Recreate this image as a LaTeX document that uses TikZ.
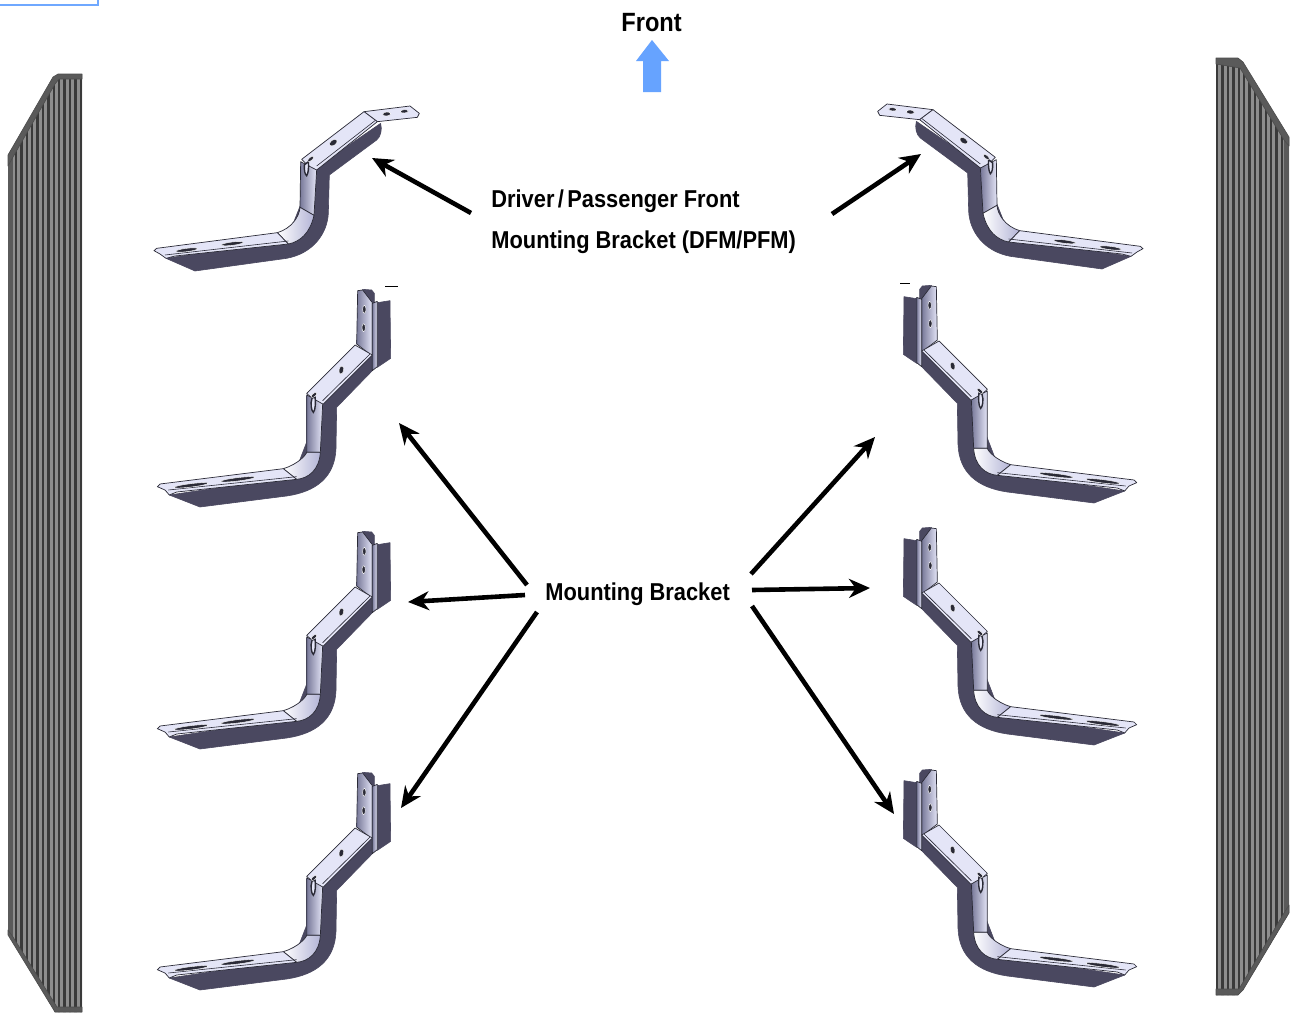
\documentclass[tikz,border=0pt]{standalone}
\usepackage{fontspec}
\newfontfamily\lblfont[FakeStretch=0.895]{Liberation Sans}
\usetikzlibrary{arrows.meta}
\definecolor{bodydark}{HTML}{4A4860}
\definecolor{facelight}{HTML}{E4E5F7}
\definecolor{facemid}{HTML}{A0A1CC}
\definecolor{edgeline}{HTML}{2A2A36}
\definecolor{stripebase}{HTML}{8E8E8E}
\definecolor{stripeline}{HTML}{3A3A3A}
\definecolor{railgrey}{HTML}{5A5A5A}
\definecolor{frontblue}{HTML}{66A3FF}
\definecolor{boxblue}{HTML}{6FA8FF}
\tikzset{
  body/.style={fill=bodydark,draw=bodydark,line width=.3pt,line join=round},
  face/.style={fill=facelight,draw=edgeline,line width=.35pt,line join=round},
  vface/.style={left color=facemid!75!black,right color=facelight,draw=edgeline,line width=.35pt,line join=round},
  bendface/.style={left color=white,right color=facemid!80,draw=edgeline,line width=.35pt,line join=round},
  hole/.style={fill=edgeline,draw=white,line width=.2pt},
  callout/.style={-{Stealth[length=10.5pt,width=9.5pt]},line width=2.3pt,black},
  lbl/.style={font=\lblfont\bfseries\fontsize{12.2}{14}\selectfont,anchor=base west,inner sep=0pt,text=black},
  rail/.style={fill=railgrey,draw=black!70,line width=.3pt,line join=round},
}
\newcommand{\tallbracket}[3]{%
\begin{scope}[shift={(#1,#2)},xscale=#3,yscale=1/3]
  \path[body] (750,62) -- (712,68) -- (712,262) -- (752,235) -- cycle;
  \path[body] (668,28) -- (695,30) -- (703,40) -- (703,70) -- (668,70) -- cycle;
  \path[body] (88,645) -- (180,681) -- (440,648) .. controls (530,635) and (585,590) .. (588,505) -- (590,382) -- (697,272) -- (697,225) -- (545,370) -- (460,590) -- cycle;
  \path[vface] (653,32) -- (668,30) -- (697,68) -- (697,228) -- (650,192) -- cycle;
  \path[vface] (697,70) -- (712,64) -- (712,260) -- (697,272) -- cycle;
  \path[face] (645,195) -- (697,225) -- (550,372) -- (535,372) -- (500,340) -- cycle;
  \path[vface] (500,345) -- (510,350) -- (548,372) -- (541,517) -- (500,517) -- cycle;
  \path[bendface] (430,566) .. controls (475,552) and (498,525) .. (500,517) -- (541,517) .. controls (538,570) and (505,595) .. (470,598) -- cycle;
  \path[face] (52,620) -- (60,612) -- (430,566) -- (470,598) -- (110,636) -- (88,645) -- (75,630) -- cycle;
  \draw[edgeline,line width=.3pt] (85,630) -- (470,590);
  \draw[edgeline,line width=.3pt] (690,222) -- (548,362);
  \fill[hole] (673,88) ellipse [x radius=5,y radius=12];
  \fill[hole] (671,143) ellipse [x radius=5,y radius=12];
  \fill[hole] (604,270) ellipse [x radius=7,y radius=12,rotate=-10];
  \path[hole] (153,616) ellipse [x radius=52,y radius=5,rotate=7];
  \path[hole] (293,598) ellipse [x radius=52,y radius=5,rotate=7];
  \draw[edgeline,line width=.7pt,fill=facelight] (516,355) .. controls (510,370) and (515,395) .. (520,397) .. controls (527,390) and (527,365) .. (525,350) -- cycle;
  \fill[hole] (522,345) ellipse [x radius=10,y radius=5,rotate=40];
\end{scope}}
\newcommand{\frontbracket}[3]{%
\begin{scope}[shift={(#1,#2)},xscale=#3,yscale=1/3]
  \path[body] (78,505) -- (165,543) -- (440,505) .. controls (520,490) and (562,430) .. (565,370) -- (568,255) -- (710,150) .. controls (722,140) and (727,120) .. (722,100) -- (525,235) -- (440,450) -- cycle;
  \path[face] (672,65) -- (810,48) -- (838,70) -- (832,82) -- (712,95) -- cycle;
  \path[face] (485,208) -- (672,65) -- (712,95) -- (530,240) -- (518,240) -- cycle;
  \path[vface] (482,215) -- (495,222) -- (530,240) -- (522,376) -- (480,352) -- cycle;
  \path[bendface] (412,428) .. controls (455,415) and (478,380) .. (480,352) -- (522,376) .. controls (510,430) and (480,455) .. (445,462) -- cycle;
  \path[face] (42,482) -- (50,475) -- (412,428) -- (445,462) -- (105,498) -- (78,505) -- (60,492) -- cycle;
  \draw[edgeline,line width=.3pt] (75,495) -- (445,453);
  \draw[edgeline,line width=.3pt] (705,92) -- (530,228);
  \path[hole] (740,72) ellipse [x radius=12,y radius=6,rotate=5];
  \path[hole] (793,64) ellipse [x radius=12,y radius=5,rotate=5];
  \path[hole] (580,158) ellipse [x radius=13,y radius=8,rotate=35];
  \path[hole] (140,480) ellipse [x radius=33,y radius=5,rotate=7];
  \path[hole] (277,461) ellipse [x radius=33,y radius=5,rotate=7];
  \draw[edgeline,line width=.7pt,fill=facelight] (493,225) .. controls (492,240) and (495,255) .. (500,257) .. controls (505,250) and (507,230) .. (505,215) -- cycle;
  \fill[hole] (512,207) ellipse [x radius=11,y radius=5,rotate=40];
\end{scope}}
\begin{document}
\begin{tikzpicture}[x=.5pt,y=-.5pt]
\useasboundingbox (0,0) rectangle (1291,1013);
\fill[white] (0,0) rectangle (1291,1013);

% blue box remnant at top left
\path[clip] (0,0) rectangle (1291,1013);
\draw[boxblue,line width=1.3pt] (-6,-6) rectangle (98,5);

% left panel
\begin{scope}
  \clip (58,74) -- (82,74) -- (82,1012) -- (55,1012) -- (8,932) -- (8,155) -- (53,80) -- cycle;
  \fill[stripebase] (0,70) rectangle (90,1015);
  \foreach \i in {0,...,13}{\fill[stripeline] ({82-\i*5.4},70) rectangle ({79.6-\i*5.4},1015);}
  \fill[railgrey] (8,150) rectangle (13,940);
\end{scope}
\path[rail] (58,74) -- (82,74) -- (82,79) -- (59,79) -- (55,84) -- (13,157) -- (8,166) -- (8,155) -- (53,77) -- cycle;
\path[rail] (8,930) -- (13,937) -- (57,1007) -- (82,1007) -- (82,1012) -- (55,1012) -- (8,935) -- cycle;

% right panel
\begin{scope}
  \clip (1216,58) -- (1238,58) -- (1243,63) -- (1289,138) -- (1289,913) -- (1243,990) -- (1238,995) -- (1216,995) -- cycle;
  \fill[stripebase] (1210,50) rectangle (1295,1000);
  \foreach \i in {0,...,13}{\fill[stripeline] ({1216+\i*5.4},50) rectangle ({1218.4+\i*5.4},1000);}
  \fill[railgrey] (1284,130) rectangle (1289,920);
\end{scope}
\path[rail] (1216,58) -- (1238,58) -- (1243,62) -- (1289,137) -- (1289,146) -- (1284,140) -- (1240,68) -- (1216,64) -- cycle;
\path[rail] (1289,905) -- (1289,913) -- (1243,990) -- (1238,995) -- (1216,995) -- (1216,989) -- (1239,989) -- (1284,913) -- cycle;

% brackets, left column
\frontbracket{140}{90}{1/3}
\tallbracket{140}{280}{1/3}
\tallbracket{140}{522}{1/3}
\tallbracket{140}{763}{1/3}
% brackets, right column
\frontbracket{1157}{88}{-1/3}
\tallbracket{1154}{276}{-1/3}
\tallbracket{1154}{518}{-1/3}
\tallbracket{1154}{760}{-1/3}

% small marks
\fill[black] (385,286) rectangle (398,287);
\fill[black] (900,283) rectangle (910,284);

% front arrow
\path[fill=frontblue] (652,40) -- (669,61) -- (661,61) -- (661,92) -- (643,92) -- (643,61) -- (636,61) -- cycle;

% labels
\node[lbl,font=\lblfont\bfseries\fontsize{13.2}{15}\selectfont] (front) at (621,31) {Front};
\node[lbl] (drv) at (491,207) {Driver\kern1.7pt/\kern1.7pt Passenger Front};
\node[lbl] (dfm) at (491,248) {Mounting Bracket (DFM/PFM)};
\node[lbl] (mb) at (545,600) {Mounting Bracket};

% callouts
\coordinate (a1s) at (471,213); \coordinate (a1e) at (372,158);
\coordinate (a2s) at (832,214); \coordinate (a2e) at (921,154);
\coordinate (b1s) at (527,585); \coordinate (b1e) at (399,423);
\coordinate (b2s) at (525,595); \coordinate (b2e) at (408,602);
\coordinate (b3s) at (537,612); \coordinate (b3e) at (401,808);
\coordinate (c1s) at (751,574); \coordinate (c1e) at (875,437);
\coordinate (c2s) at (752,590); \coordinate (c2e) at (870,588);
\coordinate (c3s) at (752,606); \coordinate (c3e) at (894,814);
\foreach \n in {a1,a2,b1,b2,b3,c1,c2,c3}{\draw[callout] (\n s) -- (\n e);}
\end{tikzpicture}
\end{document}
